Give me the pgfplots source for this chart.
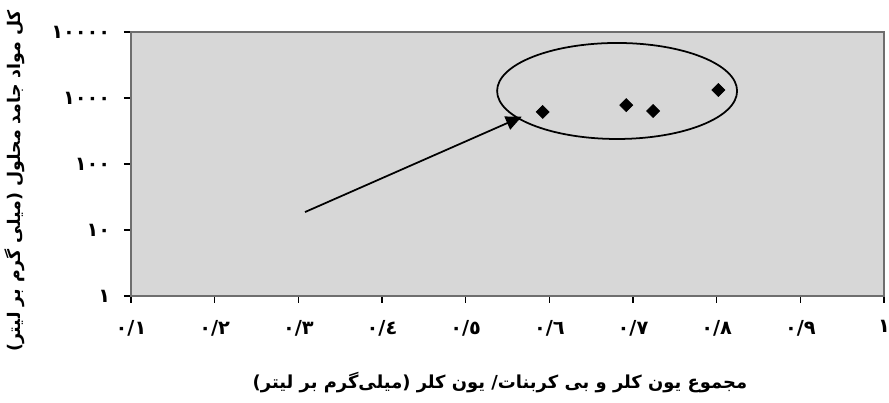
\documentclass[border=0pt]{standalone}
\usepackage{fontspec}
\usepackage{pgfplots}
\pgfplotsset{compat=1.18}
\usetikzlibrary{arrows.meta}
\newfontfamily\arabicfont[Script=Arabic]{DejaVu Sans}
\TeXXeTstate=1
\definecolor{plotbg}{RGB}{215,215,215}
\definecolor{frame}{RGB}{110,110,110}

\begin{document}
\begin{tikzpicture}
\useasboundingbox (-2.62cm,-2.14cm) rectangle (15.16cm,5.92cm);
\begin{axis}[
  at={(0,0)}, anchor=south west,
  scale only axis,
  width=15.06cm, height=5.28cm,
  xmin=0.1, xmax=1,
  ymode=log, ymin=1, ymax=10000,
  axis background/.style={fill=plotbg},
  axis line style={draw=frame, line width=0.8pt},
  tick align=outside, xtick pos=left, ytick pos=left,
  major tick length=0.14cm,
  tick style={black, line width=0.6pt},
  minor tick num=0, yminorticks=false,
  xtick={0.1,0.2,0.3,0.4,0.5,0.6,0.7,0.8,0.9,1},
  xticklabels={٠/١,٠/٢,٠/٣,٠/٤,٠/٥,٠/٦,٠/٧,٠/٨,٠/٩,١},
  ytick={1,10,100,1000,10000},
  yticklabels={١,١٠,١٠٠,١٠٠٠,١٠٠٠٠},
  xticklabel style={font=\arabicfont\bfseries\fontsize{11}{13}\selectfont, yshift=-0.22cm},
  yticklabel style={font=\arabicfont\bfseries\fontsize{11}{13}\selectfont, xshift=-0.15cm},
  xlabel={\beginR مجموع یون کلر و بی کربنات/ یون کلر (میلی‌گرم بر لیتر)\endR},
  ylabel={\beginR کل مواد جامد محلول (میلی گرم بر لیتر)\endR},
  xlabel style={font=\arabicfont\bfseries\fontsize{10.2}{12}\selectfont, at={(axis description cs:0.49,-0.326)}, anchor=center},
  ylabel style={font=\arabicfont\bfseries\fontsize{9.9}{12}\selectfont, at={(axis description cs:-0.154,0.436)}, anchor=center, rotate=0},
  clip=false,
]
\addplot[only marks, mark=square*, mark size=2.6pt, mark options={rotate=45, fill=black, draw=black}]
  coordinates {(0.592,615) (0.692,780) (0.724,635) (0.802,1320)};
\draw[black, line width=1pt] (axis cs:0.681,1277) ellipse [x radius=2.4cm, y radius=0.96cm];
\draw[black, line width=1pt, -{Triangle[length=9pt,width=8pt]}] (axis cs:0.308,18.7) -- (axis cs:0.567,520);
\end{axis}
\end{tikzpicture}
\end{document}
